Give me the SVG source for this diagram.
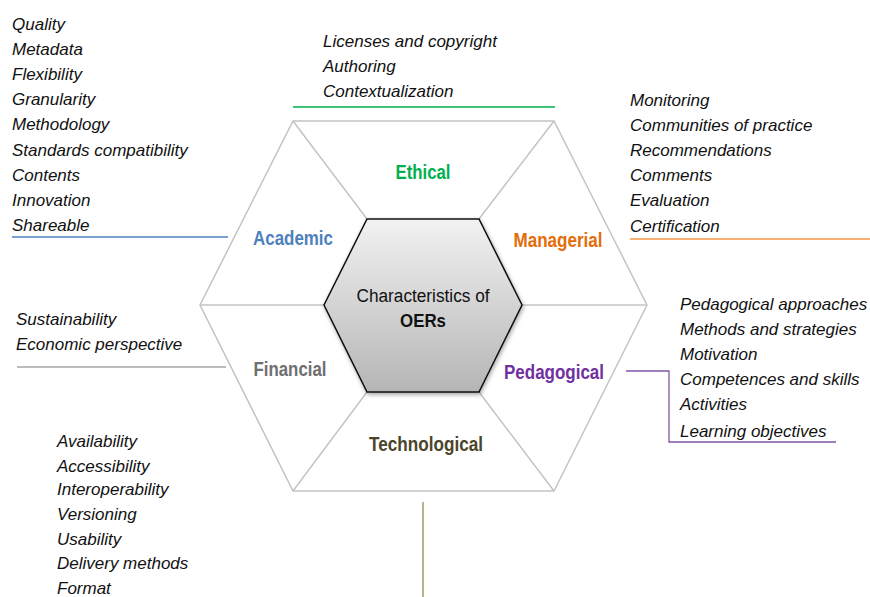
<svg xmlns="http://www.w3.org/2000/svg" width="870" height="597" viewBox="0 0 870 597">
<defs>
<linearGradient id="hexfill" x1="0" y1="0" x2="0" y2="1">
<stop offset="0" stop-color="#f2f2f2"/>
<stop offset="1" stop-color="#b5b5b5"/>
</linearGradient>
<filter id="sh" x="-20%" y="-20%" width="140%" height="140%">
<feGaussianBlur in="SourceAlpha" stdDeviation="2"/>
<feOffset dx="1" dy="2" result="b"/>
<feComponentTransfer><feFuncA type="linear" slope="0.35"/></feComponentTransfer>
<feMerge><feMergeNode/><feMergeNode in="SourceGraphic"/></feMerge>
</filter>
</defs>
<style>
.item{font-family:"Liberation Sans",Arial,sans-serif;font-style:italic;font-size:17px;fill:#111}
.lab{font-family:"Liberation Sans Narrow","Liberation Sans",Arial,sans-serif;font-weight:bold;font-size:20px;text-anchor:middle}
.ctr{font-family:"Liberation Sans Narrow","Liberation Sans",Arial,sans-serif;font-size:18px;fill:#111;text-anchor:middle}
.frame{fill:none;stroke:#c4c4c4;stroke-width:1.5}
.conn{fill:none;stroke-width:1.3}
</style>
<rect width="870" height="597" fill="#fff"/>

<g id="frame">
<polygon class="frame" points="293,121 554,121 647,305 554,491 293,491 200,305"/>
<line class="frame" x1="293" y1="121" x2="367" y2="219"/>
<line class="frame" x1="554" y1="121" x2="479" y2="219"/>
<line class="frame" x1="200" y1="305" x2="324" y2="305"/>
<line class="frame" x1="522" y1="305" x2="647" y2="305"/>
<line class="frame" x1="367" y1="392" x2="293" y2="491"/>
<line class="frame" x1="479" y1="392" x2="554" y2="491"/>
</g>

<g id="connectors">
<line class="conn" x1="293" y1="107" x2="555" y2="107" stroke="#00b050"/>
<line class="conn" x1="12" y1="237" x2="228" y2="237" stroke="#4f81bd"/>
<line class="conn" x1="630" y1="239" x2="870" y2="239" stroke="#f79646"/>
<line class="conn" x1="17" y1="367" x2="226" y2="367" stroke="#a6a6a6"/>
<polyline class="conn" points="626,371 669,371 669,442 836,442" stroke="#7f55a8"/>
<line class="conn" x1="423" y1="502" x2="423" y2="597" stroke="#948a54"/>
</g>

<g id="center">
<polygon points="367,219 479,219 522,305 479,392 367,392 324,305" fill="url(#hexfill)" stroke="#111" stroke-width="1.5" filter="url(#sh)"/>
<text class="ctr" x="423" y="302" textLength="133" lengthAdjust="spacingAndGlyphs">Characteristics of</text>
<text class="ctr" x="423" y="327" font-weight="bold" textLength="46" lengthAdjust="spacingAndGlyphs">OERs</text>
</g>

<g id="ethical">
<text class="lab" x="423" y="179" fill="#00b050" textLength="55" lengthAdjust="spacingAndGlyphs">Ethical</text>
<text class="item" x="323" y="47">Licenses and copyright</text>
<text class="item" x="323" y="72">Authoring</text>
<text class="item" x="323" y="97">Contextualization</text>
</g>

<g id="academic">
<text class="lab" x="293" y="245" fill="#4f81bd" textLength="80" lengthAdjust="spacingAndGlyphs">Academic</text>
<text class="item" x="12" y="30">Quality</text>
<text class="item" x="12" y="55">Metadata</text>
<text class="item" x="12" y="80">Flexibility</text>
<text class="item" x="12" y="105">Granularity</text>
<text class="item" x="12" y="130">Methodology</text>
<text class="item" x="12" y="156">Standards  compatibility</text>
<text class="item" x="12" y="181">Contents</text>
<text class="item" x="12" y="206">Innovation</text>
<text class="item" x="12" y="231">Shareable</text>
</g>

<g id="managerial">
<text class="lab" x="558" y="247" fill="#e46c0a" textLength="89" lengthAdjust="spacingAndGlyphs">Managerial</text>
<text class="item" x="630" y="106">Monitoring</text>
<text class="item" x="630" y="131">Communities of practice</text>
<text class="item" x="630" y="156">Recommendations</text>
<text class="item" x="630" y="181">Comments</text>
<text class="item" x="630" y="206">Evaluation</text>
<text class="item" x="630" y="232">Certification</text>
</g>

<g id="financial">
<text class="lab" x="290" y="376" fill="#6f6f6f" textLength="73" lengthAdjust="spacingAndGlyphs">Financial</text>
<text class="item" x="16" y="325">Sustainability</text>
<text class="item" x="16" y="350">Economic perspective</text>
</g>

<g id="pedagogical">
<text class="lab" x="554" y="379" fill="#7030a0" textLength="100" lengthAdjust="spacingAndGlyphs">Pedagogical</text>
<text class="item" x="680" y="310">Pedagogical approaches</text>
<text class="item" x="680" y="335">Methods and strategies</text>
<text class="item" x="680" y="360">Motivation</text>
<text class="item" x="680" y="385">Competences  and skills</text>
<text class="item" x="680" y="410">Activities</text>
<text class="item" x="680" y="437">Learning  objectives</text>
</g>

<g id="technological">
<text class="lab" x="426" y="451" fill="#4a452a" textLength="114" lengthAdjust="spacingAndGlyphs">Technological</text>
<text class="item" x="57" y="447">Availability</text>
<text class="item" x="57" y="472">Accessibility</text>
<text class="item" x="57" y="495">Interoperability</text>
<text class="item" x="57" y="520">Versioning</text>
<text class="item" x="57" y="545">Usability</text>
<text class="item" x="57" y="569">Delivery methods</text>
<text class="item" x="57" y="594">Format</text>
</g>
</svg>
